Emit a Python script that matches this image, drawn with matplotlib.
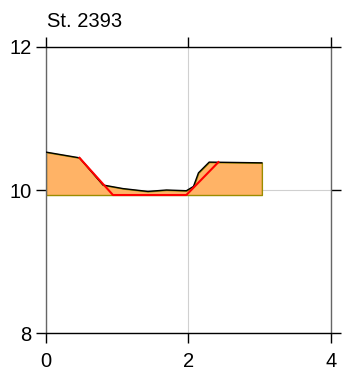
import numpy as np
import matplotlib.pyplot as plt

plt.rcParams['font.family'] = ['Liberation Sans', 'DejaVu Sans']

# station cross section data
station = "St. 2393"
ground_x = [0.0, 0.47, 0.80, 1.08, 1.43, 1.69, 1.97, 2.07, 2.14, 2.29, 3.03]
ground_y = [10.53, 10.45, 10.07, 10.02, 9.98, 10.00, 9.99, 10.05, 10.24, 10.39, 10.38]
base_y = 9.93
design_x = [0.47, 0.94, 1.97, 2.42]
design_y = [10.45, 9.93, 9.93, 10.39]

xticks = [0, 2, 4]
yticks = [8, 10, 12]

fig = plt.figure(figsize=(3.45, 3.73), dpi=100)
ax = fig.add_axes([0.1333, 0.1072, 0.8261, 0.7668])

ax.fill_between(ground_x, ground_y, base_y, facecolor='#FFB366',
                edgecolor='#9C8C00', linewidth=1.0, zorder=2)
ax.plot(ground_x, ground_y, color='black', linewidth=1.0, zorder=3)
ax.plot(design_x, design_y, color='#FF0000', linewidth=1.5, zorder=4)

ax.set_xlim(0, 4)
ax.set_ylim(8, 12)
ax.set_xticks(xticks)
ax.set_yticks(yticks)
ax.grid(True, color='#d0d0d0', linewidth=0.8)
ax.set_axisbelow(True)

for s in ['top', 'bottom']:
    ax.spines[s].set_color('black')
    ax.spines[s].set_linewidth(1.0)
for s in ['left', 'right']:
    ax.spines[s].set_color('#666666')
    ax.spines[s].set_linewidth(1.0)

ax.tick_params(direction='out', length=7.5, width=1.0, color='black',
               labelsize=14.5, top=True, right=True, pad=3)
ax.tick_params(axis='x', pad=6)

# outer x ticks continue the grey side lines
xt = ax.xaxis.get_major_ticks()
for i in (0, len(xt) - 1):
    xt[i].tick1line.set_color('#666666')
    xt[i].tick2line.set_color('#666666')

ax.text(0.003, 1.07, station, transform=ax.transAxes, fontsize=14.5,
        ha='left', va='baseline')

fig.savefig('out.png', dpi=100)
